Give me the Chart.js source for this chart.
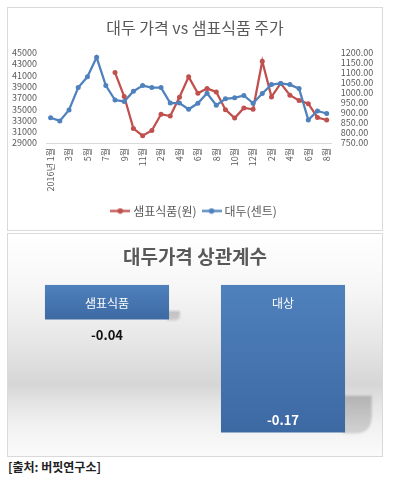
<!DOCTYPE html>
<html>
<head>
<meta charset="utf-8">
<script src="https://cdn.jsdelivr.net/npm/chart.js@4/dist/chart.umd.min.js"></script>
<style>
  html, body { margin: 0; padding: 0; background: #ffffff; width: 396px; height: 479px; overflow: hidden; }
  .panel { position: absolute; box-sizing: border-box; border: 1px solid #d9d9d9; }
  #p1 { left: 7px; top: 7px; width: 376px; height: 224px; background: #ffffff; }
  #p2 { left: 7px; top: 233px; width: 376px; height: 224px;
        background: linear-gradient(to bottom, #ffffff 0%, #f6f6f6 25%, #e6e6e6 49%, #d6d6d6 68%, #e4e4e4 76%, #f1f1f1 86%, #fbfbfb 100%); }
  canvas { display: block; }
  #src { position: absolute; left: 8px; top: 458px; font: bold 12px 'Noto Sans CJK KR', sans-serif; color: #222222; line-height: 18px; }
</style>
</head>
<body>
<div class="panel" id="p1"><canvas id="c1" width="374" height="222"></canvas></div>
<div class="panel" id="p2"><canvas id="c2" width="374" height="222"></canvas></div>
<div id="src">[출처: 버핏연구소]</div>
<script>
// ---------- data ----------
const monthLabels = ["2016년 1월","2월","3월","4월","5월","6월","7월","8월","9월","10월","11월","1월",
  "2월","3월","4월","5월","6월","7월","8월","9월","10월","11월","12월","1월",
  "2월","3월","4월","5월","6월","7월","8월"];
const sempioPrice = [null,null,null,null,null,null,null,
  41470,37240,31560,30290,31210,34110,33770,37120,40720,37820,38640,38040,34910,33420,35210,34980,
  43500,37170,39560,37470,36550,35960,33520,33070];
const soybeanCents = [876,860,915,1026,1080,1177,1036,964,957,1008,1036,1026,1026,949,949,918,
  948,998,938,970,975,987,948,997,1041,1047,1041,1021,865,910,897];
const leftTicks = { min: 29000, max: 45000, step: 2000 };
const rightTicks = { min: 750, max: 1200, step: 50 };
const corrCats = ["샘표식품", "대상"];
const corrValues = [-0.04, -0.17];

const RED = '#C0504D', BLUE = '#4F81BD', GREY = '#595959';
Chart.defaults.font.family = "'Noto Sans CJK KR', 'Noto Sans', sans-serif";
Chart.defaults.color = GREY;

function makeMarker(color) {
  const c = document.createElement('canvas');
  c.width = 20; c.height = 7;
  const g = c.getContext('2d');
  g.strokeStyle = color; g.lineWidth = 2.25;
  g.beginPath(); g.moveTo(0, 3.5); g.lineTo(20, 3.5); g.stroke();
  g.fillStyle = color;
  g.beginPath(); g.arc(10, 3.5, 2.8, 0, Math.PI * 2); g.fill();
  return c;
}
const markers = [makeMarker(RED), makeMarker(BLUE)];

// ---------- line chart ----------
new Chart(document.getElementById('c1'), {
  type: 'line',
  data: {
    labels: monthLabels,
    datasets: [
      { label: '샘표식품(원)', data: sempioPrice, yAxisID: 'yL', borderColor: RED, backgroundColor: RED,
        borderWidth: 2.25, pointRadius: 2.5, pointBackgroundColor: RED, pointBorderWidth: 0, tension: 0, order: 1 },
      { label: '대두(센트)', data: soybeanCents, yAxisID: 'yR', borderColor: BLUE, backgroundColor: BLUE,
        borderWidth: 2.25, pointRadius: 2.5, pointBackgroundColor: BLUE, pointBorderWidth: 0, tension: 0, order: 0 }
    ]
  },
  options: {
    responsive: false,
    animation: false,
    layout: { padding: { left: 0, right: 0, top: 0, bottom: 3 } },
    plugins: {
      title: { display: true, text: '대두 가격 vs 샘표식품 주가', color: GREY,
               font: { size: 16, weight: 'normal' }, padding: { top: 10.4, bottom: 15.1 } },
      legend: {
        position: 'bottom',
        labels: {
          usePointStyle: true, pointStyleWidth: 14, padding: 8, color: GREY,
          font: { size: 12 },
          sort: (a, b) => a.datasetIndex - b.datasetIndex,
          generateLabels: (chart) => {
            const items = Chart.defaults.plugins.legend.labels.generateLabels(chart);
            items.forEach(it => { it.pointStyle = markers[it.datasetIndex]; });
            return items;
          }
        }
      },
      tooltip: { enabled: false }
    },
    scales: {
      x: {
        offset: true,
        grid: { display: false, drawTicks: false },
        border: { display: true, color: '#d9d9d9', width: 1 },
        ticks: {
          autoSkip: false, minRotation: 90, maxRotation: 90, padding: 5,
          color: GREY, font: { size: 9 },
          callback: (v, i) => (i % 2 === 0 ? monthLabels[i] : '')
        },
        afterFit: (s) => { s.height = 54; }
      },
      yL: {
        position: 'left', min: leftTicks.min, max: leftTicks.max,
        grid: { display: false, drawTicks: false }, border: { display: false },
        ticks: { stepSize: leftTicks.step, autoSkip: false, padding: 9, color: GREY, font: { size: 9 },
                 callback: (v) => String(v) },
        afterFit: (s) => { s.width = 38; }
      },
      yR: {
        position: 'right', min: rightTicks.min, max: rightTicks.max,
        grid: { display: false, drawTicks: false }, border: { display: false },
        ticks: { stepSize: rightTicks.step, autoSkip: false, padding: 9.4, color: GREY, font: { size: 9 },
                 callback: (v) => Number(v).toFixed(2) },
        afterFit: (s) => { s.width = 50.7; }
      }
    }
  }
});

// ---------- correlation bar chart ----------
const barShadow = {
  id: 'barShadow',
  beforeDatasetsDraw(chart) {
    const ctx = chart.ctx;
    chart.getDatasetMeta(0).data.forEach(el => {
      const h = el.y - el.base;
      const right = el.x + el.width / 2;
      const d = 0.25 * h, dx = 6 + 0.14 * h;
      ctx.save();
      ctx.filter = 'blur(1.2px)';
      const g = ctx.createLinearGradient(0, el.y - d, 0, el.y);
      g.addColorStop(0, 'rgba(0,0,0,0.20)');
      g.addColorStop(1, 'rgba(0,0,0,0.14)');
      ctx.fillStyle = g;
      ctx.beginPath();
      ctx.moveTo(right - 2, el.y - d);
      ctx.lineTo(right + dx, el.y - d);
      ctx.lineTo(right + dx, el.y - d * 0.45);
      ctx.quadraticCurveTo(right + dx, el.y + 1, right + dx * 0.35, el.y + 1);
      ctx.lineTo(right - 2, el.y + 1);
      ctx.closePath();
      ctx.fill();
      ctx.restore();
    });
  }
};
const barLabels = {
  id: 'barLabels',
  afterDatasetsDraw(chart) {
    const ctx = chart.ctx;
    const data = chart.data.datasets[0].data;
    chart.getDatasetMeta(0).data.forEach((el, i) => {
      ctx.save();
      ctx.textAlign = 'center';
      ctx.textBaseline = 'middle';
      ctx.fillStyle = '#ffffff';
      ctx.font = "12px 'Noto Sans CJK KR', sans-serif";
      ctx.fillText(chart.data.labels[i], el.x, el.base + 19);
      const h = el.y - el.base;
      ctx.font = "bold 13px 'Noto Sans CJK KR', sans-serif";
      const txt = data[i].toFixed(2);
      if (h > 60) { ctx.fillStyle = '#ffffff'; ctx.fillText(txt, el.x, el.y - 13); }
      else { ctx.fillStyle = '#111111'; ctx.fillText(txt, el.x, el.y + 15); }
      ctx.restore();
    });
  }
};

new Chart(document.getElementById('c2'), {
  type: 'bar',
  data: {
    labels: corrCats,
    datasets: [{
      data: corrValues,
      categoryPercentage: 1, barPercentage: 0.705, borderWidth: 0,
      backgroundColor: (c) => {
        const chart = c.chart;
        if (!chart.chartArea || c.type !== 'data') return BLUE;
        const ys = chart.scales.y;
        const top = ys.getPixelForValue(0), bot = ys.getPixelForValue(c.raw);
        const g = chart.ctx.createLinearGradient(0, top, 0, bot);
        g.addColorStop(0, '#4F81BD');
        g.addColorStop(1, '#3D69A3');
        return g;
      }
    }]
  },
  options: {
    responsive: false,
    animation: false,
    layout: { padding: { left: 11, right: 11, top: 0, bottom: 14.7 } },
    plugins: {
      title: { display: true, text: '대두가격 상관계수', color: GREY,
               font: { size: 19, weight: 'bold' }, padding: { top: 11, bottom: 17 } },
      legend: { display: false },
      tooltip: { enabled: false }
    },
    scales: {
      x: { display: false },
      y: { display: false, min: -0.18, max: 0 }
    }
  },
  plugins: [barShadow, barLabels]
});
</script>
</body>
</html>
